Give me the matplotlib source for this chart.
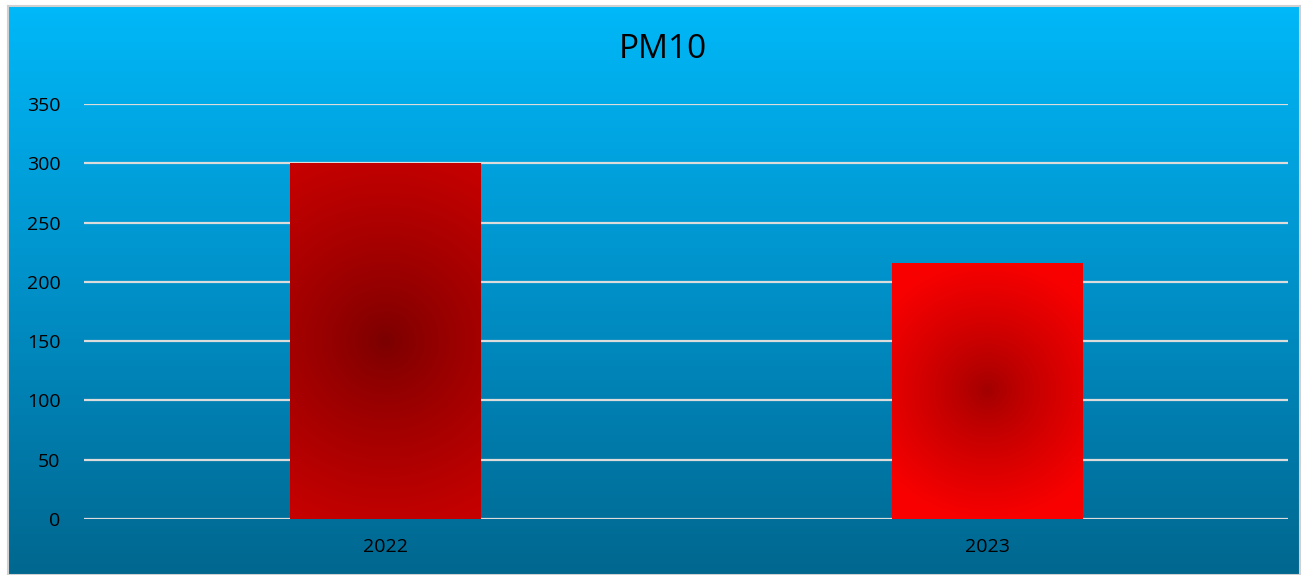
import matplotlib
matplotlib.use("Agg")
import matplotlib.pyplot as plt
import numpy as np
from matplotlib.colors import LinearSegmentedColormap
from matplotlib.patches import Rectangle

years = ['2022', '2023']
pm10 = [300, 216]
yticks = [0, 50, 100, 150, 200, 250, 300, 350]

# center / edge colours of the radial fill for each bar
bar_center = ['#7a0000', '#a00000']
bar_edge = ['#c40000', '#f80000']
bar_radius = [190.0, 130.0]

W, H = 1305, 575
fig = plt.figure(figsize=(W / 100, H / 100), dpi=100)
fig.patch.set_facecolor('white')

# chart area background with vertical gradient
bx0, by0, bx1, by1 = 8, 6, 1300, 575
bg = fig.add_axes([bx0 / W, 1 - by1 / H, (bx1 - bx0) / W, (by1 - by0) / H])
bg_cmap = LinearSegmentedColormap.from_list('bg', ['#00678f', '#0090c8', '#00b8f8'])
grad = np.linspace(0, 1, 256).reshape(-1, 1)
bg.imshow(grad, cmap=bg_cmap, aspect='auto', origin='lower', extent=[0, 1, 0, 1])
bg.set_xticks([])
bg.set_yticks([])
for s in bg.spines.values():
    s.set_color('#d0d0d0')
    s.set_linewidth(1.5)

# plot area
px0, px1, py0, py1 = 84, 1288, 104, 519
ax = fig.add_axes([px0 / W, 1 - py1 / H, (px1 - px0) / W, (py1 - py0) / H])
ax.set_facecolor('none')
ax.set_xlim(-0.5, 1.5)
ax.set_ylim(0, 350)
ax.set_yticks(yticks)
ax.set_xticks(range(len(years)))
ax.set_xticklabels(years)
ax.tick_params(length=0, labelsize=14, colors='black')
ax.tick_params(axis='y', pad=17)
ax.tick_params(axis='x', pad=14)
for lbl in ax.get_xticklabels() + ax.get_yticklabels():
    lbl.set_family('Open Sans')
for s in ax.spines.values():
    s.set_visible(False)
ax.grid(axis='y', color='#dcdcdc', linewidth=1.6)
ax.set_axisbelow(True)

bw = 0.316
bars = ax.bar(range(len(years)), pm10, width=bw, color='none', zorder=2)

# radial gradient fill in each bar
ppx = (px1 - px0) / 2.0  # pixels per x unit
ppy = (py1 - py0) / 350.0
for i, b in enumerate(bars):
    x0 = b.get_x()
    h = b.get_height()
    nx, ny = 200, 400
    xs = np.linspace(x0, x0 + bw, nx)
    ys = np.linspace(0, h, ny)
    X, Y = np.meshgrid(xs, ys)
    cx, cy = x0 + bw / 2, h / 2
    r = np.hypot((X - cx) * ppx, (Y - cy) * ppy)
    t = np.clip(r / bar_radius[i], 0, 1) ** 0.8
    cm = LinearSegmentedColormap.from_list('b%d' % i, [bar_center[i], bar_edge[i]])
    im = ax.imshow(t, cmap=cm, vmin=0, vmax=1, origin='lower', aspect='auto',
                   extent=[x0, x0 + bw, 0, h], zorder=2, interpolation='bilinear')
    im.set_clip_path(Rectangle((x0, 0), bw, h, transform=ax.transData))

ax.set_xlim(-0.5, 1.5)
ax.set_ylim(0, 350)

fig.text(663 / W, 1 - 50 / H, 'PM10', ha='center', va='center', fontsize=24,
         family='Open Sans', color='black')

fig.savefig('out.png', dpi=100)
